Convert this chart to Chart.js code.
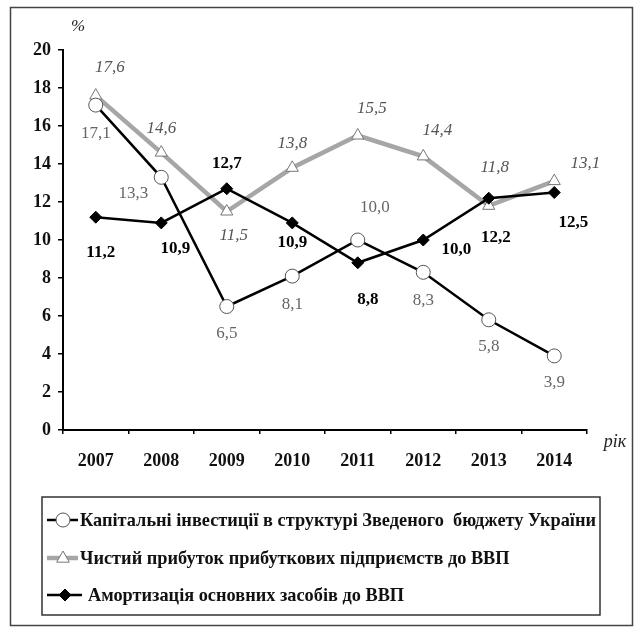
<!DOCTYPE html>
<html lang="uk">
<head>
<meta charset="UTF-8">
<title>Інвестиції, прибуток, амортизація</title>
<script src="https://cdn.jsdelivr.net/npm/chart.js"></script>
<style>
  body { margin: 0; background: #fff; }
  canvas { display: block; }
</style>
</head>
<body>
<canvas id="chart" width="636" height="631"></canvas>
<script>
// data
const years = ['2007', '2008', '2009', '2010', '2011', '2012', '2013', '2014'];
const capitalInvest = [17.1, 13.3, 6.5, 8.1, 10.0, 8.3, 5.8, 3.9];
const netProfit = [17.6, 14.6, 11.5, 13.8, 15.5, 14.4, 11.8, 13.1];
const amortization = [11.2, 10.9, 12.7, 10.9, 8.8, 10.0, 12.2, 12.5];
const yTicks = [0, 2, 4, 6, 8, 10, 12, 14, 16, 18, 20];

const seriesNames = [
  'Капітальні інвестиції в структурі Зведеного  бюджету України',
  'Чистий прибуток прибуткових підприємств до ВВП',
  'Амортизація основних засобів до ВВП'
];

const SERIF = '"Liberation Serif", "Times New Roman", serif';

// where each value label sits relative to its point (px)
const labelOffsets = [
  [[0, 28], [-28, 16], [0, 27], [0, 28], [17, -32], [0, 28], [0, 27], [0, 27]],
  [[14, -28], [0, -24], [7, 24], [0, -24], [14, -27], [14, -26], [6, -38], [31, -18]],
  [[5, 35], [14, 26], [0, -25], [0, 20], [10, 37], [33, 10], [7, 39], [19, 30]]
];
const labelFonts = ['17px ' + SERIF, 'italic 17px ' + SERIF, 'bold 17px ' + SERIF];
const labelColors = ['#666', '#555', '#000'];

function fmt(v) {
  return v.toFixed(1).replace('.', ',');
}

const valueLabels = {
  id: 'valueLabels',
  afterDatasetsDraw(chart) {
    const ctx = chart.ctx;
    ctx.save();
    ctx.textAlign = 'center';
    ctx.textBaseline = 'middle';
    chart.data.datasets.forEach((ds, di) => {
      const meta = chart.getDatasetMeta(di);
      ctx.font = labelFonts[di];
      ctx.fillStyle = labelColors[di];
      meta.data.forEach((pt, i) => {
        const off = labelOffsets[di][i];
        ctx.fillText(fmt(ds.data[i]), pt.x + off[0], pt.y + off[1]);
      });
    });
    ctx.restore();
  }
};

function drawMarker(ctx, ds, x, y) {
  ctx.save();
  ctx.lineWidth = 1;
  ctx.fillStyle = ds.pointBackgroundColor;
  ctx.strokeStyle = ds.pointBorderColor;
  const r = ds.pointRadius;
  ctx.beginPath();
  if (ds.pointStyle === 'circle') {
    ctx.arc(x, y, r, 0, Math.PI * 2);
  } else if (ds.pointStyle === 'triangle') {
    ctx.moveTo(x, y - r);
    ctx.lineTo(x + r * 0.9, y + r * 0.6);
    ctx.lineTo(x - r * 0.9, y + r * 0.6);
    ctx.closePath();
  } else {
    ctx.moveTo(x, y - r);
    ctx.lineTo(x + r, y);
    ctx.lineTo(x, y + r);
    ctx.lineTo(x - r, y);
    ctx.closePath();
  }
  ctx.fill();
  ctx.stroke();
  ctx.restore();
}

const frameAndLegend = {
  id: 'frameAndLegend',
  beforeDraw(chart) {
    const ctx = chart.ctx;
    ctx.save();
    ctx.fillStyle = '#fff';
    ctx.fillRect(0, 0, chart.width, chart.height);
    ctx.restore();
  },
  afterDraw(chart) {
    const ctx = chart.ctx;
    ctx.save();
    // outer frame
    ctx.strokeStyle = '#444';
    ctx.lineWidth = 1.5;
    ctx.strokeRect(10.5, 7.5, 622, 618);

    // axis titles
    ctx.fillStyle = '#222';
    ctx.font = 'italic 17px ' + SERIF;
    ctx.textAlign = 'center';
    ctx.textBaseline = 'middle';
    ctx.fillText('%', 78, 27);
    ctx.font = 'italic 18px ' + SERIF;
    ctx.fillText('рік', 615, 442);

    // legend box
    ctx.strokeStyle = '#333';
    ctx.lineWidth = 1.5;
    ctx.strokeRect(42, 497, 558, 118);

    const rows = [520, 558, 595];
    const textX = [80, 80, 88];
    ctx.font = 'bold 19px ' + SERIF;
    const sx = Math.min(1, 516 / ctx.measureText(seriesNames[0]).width);
    chart.data.datasets.forEach((ds, i) => {
      const y = rows[i];
      ctx.strokeStyle = ds.borderColor;
      ctx.lineWidth = ds.borderWidth;
      ctx.beginPath();
      ctx.moveTo(47, y);
      ctx.lineTo(i === 2 ? 82 : 78, y);
      ctx.stroke();
      drawMarker(ctx, ds, i === 2 ? 65 : 63, y);

      ctx.save();
      ctx.translate(textX[i], y);
      ctx.scale(sx, 1);
      ctx.fillStyle = '#111';
      ctx.textAlign = 'left';
      ctx.fillText(ds.label, 0, 1);
      ctx.restore();
    });
    ctx.restore();
  }
};

new Chart(document.getElementById('chart'), {
  type: 'line',
  data: {
    labels: years,
    datasets: [
      {
        label: seriesNames[0],
        data: capitalInvest,
        borderColor: '#000',
        borderWidth: 2.5,
        pointStyle: 'circle',
        pointRadius: 7,
        pointBackgroundColor: '#fff',
        pointBorderColor: '#555',
        pointBorderWidth: 1,
        order: 2
      },
      {
        label: seriesNames[1],
        data: netProfit,
        borderColor: '#a6a6a6',
        borderWidth: 4.5,
        pointStyle: 'triangle',
        pointRadius: 7,
        pointBackgroundColor: '#fff',
        pointBorderColor: '#777',
        pointBorderWidth: 1,
        order: 3
      },
      {
        label: seriesNames[2],
        data: amortization,
        borderColor: '#000',
        borderWidth: 2.5,
        pointStyle: 'rectRot',
        pointRadius: 6,
        pointBackgroundColor: '#000',
        pointBorderColor: '#000',
        pointBorderWidth: 1,
        order: 1
      }
    ]
  },
  options: {
    responsive: false,
    animation: false,
    layout: { padding: { left: 0, top: 50, right: 49, bottom: 161 } },
    plugins: {
      legend: { display: false },
      tooltip: { enabled: false }
    },
    scales: {
      x: {
        offset: true,
        afterFit(scale) { scale.height = 40; },
        grid: {
          offset: true,
          drawOnChartArea: false,
          drawTicks: true,
          tickLength: 4,
          color: '#000',
          lineWidth: 1.5
        },
        border: { display: true, color: '#000', width: 2 },
        ticks: {
          color: '#111',
          padding: 17,
          maxRotation: 0,
          font: { family: SERIF, size: 18, weight: 'bold' }
        }
      },
      y: {
        min: 0,
        max: 20,
        afterFit(scale) { scale.width = 63; },
        afterBuildTicks(scale) {
          scale.ticks = yTicks.map(v => ({ value: v }));
        },
        grid: {
          drawOnChartArea: false,
          drawTicks: true,
          tickLength: 5,
          color: '#000',
          lineWidth: 1.5
        },
        border: { display: true, color: '#000', width: 2 },
        ticks: {
          color: '#111',
          padding: 7,
          font: { family: SERIF, size: 18, weight: 'bold' }
        }
      }
    }
  },
  plugins: [frameAndLegend, valueLabels]
});
</script>
</body>
</html>
